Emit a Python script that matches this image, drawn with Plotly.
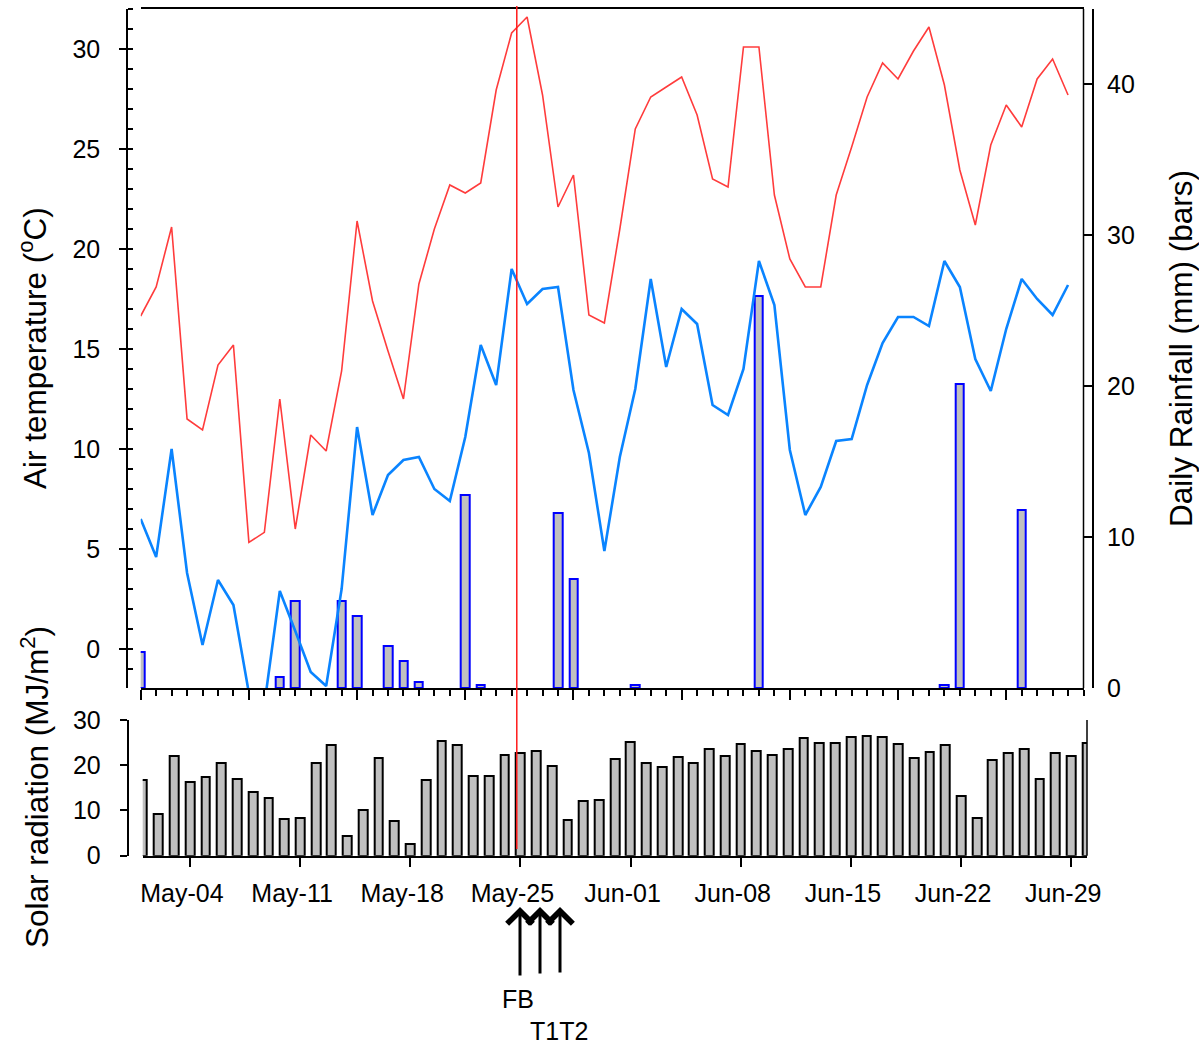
import pandas as pd
import plotly.graph_objects as go

# ---- daily weather record, 1 May – 30 June ----
dates = pd.date_range("2015-05-01", "2015-06-30", freq="D")

tmax = [16.65, 18.1, 21.1, 11.5, 10.95, 14.2, 15.2, 5.33, 5.83, 12.5,
        6.0, 10.7, 9.9, 13.9, 21.4, 17.4, 14.9, 12.5, 18.25, 21.0,
        23.2, 22.8, 23.3, 27.95, 30.8, 31.6, 27.7, 22.1, 23.7, 16.7,
        16.3, 21.0, 26.0, 27.6, 28.1, 28.6, 26.7, 23.5, 23.1, 30.1,
        30.1, 22.7, 19.5, 18.1, 18.1, 22.7, 25.1, 27.6, 29.3, 28.5,
        29.9, 31.1, 28.2, 23.95, 21.2, 25.2, 27.2, 26.1, 28.5, 29.5,
        27.7]

tmin = [6.5, 4.6, 10.0, 3.8, 0.2, 3.45, 2.2, -2.2, -2.8, 2.9,
        0.9, -1.15, -1.85, 3.0, 11.1, 6.7, 8.7, 9.45, 9.6, 8.0,
        7.4, 10.6, 15.2, 13.2, 19.0, 17.25, 18.0, 18.1, 12.95, 9.8,
        4.9, 9.6, 13.0, 18.5, 14.1, 17.0, 16.25, 12.2, 11.7, 14.0,
        19.4, 17.2, 9.95, 6.7, 8.1, 10.4, 10.5, 13.2, 15.3, 16.6,
        16.6, 16.15, 19.4, 18.1, 14.5, 12.9, 16.0, 18.5, 17.5, 16.7,
        18.2]

rain = [2.36, 0, 0, 0, 0, 0, 0, 0, 0, 0.75,
        5.76, 0, 0, 5.76, 4.77, 0, 2.78, 1.79, 0.37, 0,
        0, 12.78, 0.18, 0, 0, 0, 0, 11.57, 7.2, 0,
        0, 0, 0.2, 0, 0, 0, 0, 0, 0, 0,
        26.0, 0, 0, 0, 0, 0, 0, 0, 0, 0,
        0, 0, 0.2, 20.18, 0, 0, 0, 11.79, 0, 0,
        0]

solar = [16.8, 9.27, 22.15, 16.2, 17.3, 20.6, 17.0, 14.15, 12.8, 8.2,
         8.4, 20.4, 24.5, 4.45, 10.0, 21.5, 7.57, 2.6, 16.75, 25.3,
         24.45, 17.7, 17.55, 22.2, 22.75, 23.05, 19.85, 7.93, 12.2, 12.4,
         21.3, 25.1, 20.5, 19.7, 21.8, 20.4, 23.7, 22.15, 24.8, 23.2,
         22.3, 23.5, 26.0, 25.0, 25.0, 26.15, 26.4, 26.3, 24.8, 21.6,
         22.9, 24.4, 13.1, 8.3, 21.05, 22.8, 23.5, 16.9, 22.8, 22.15,
         25.0]

event_line_date = "2015-05-25 08:00"
event_labels = ["FB", "T1", "T2"]

# ---- page geometry (pixels) ----
W, H = 1199, 1045
DAY = 86400000


def fx(px):
    return px / W


def fy(py):
    return 1 - py / H


FONT = "Liberation Sans, Arial, sans-serif"
tickfont = dict(family=FONT, size=25, color="black")
titlefont = dict(family=FONT, size=31.5, color="black")

rain_dates = [d for d, r in zip(dates, rain) if r > 0]
rain_vals = [r for r in rain if r > 0]

fig = go.Figure()

# rainfall bars (base axis of the upper panel, so lines sit above them)
fig.add_trace(go.Bar(
    x=rain_dates, y=rain_vals, width=0.55 * DAY,
    marker=dict(color="#c0c0c0", line=dict(color="#0000ff", width=2)),
    xaxis="x", yaxis="y", showlegend=False,
))

# maximum / minimum air temperature
fig.add_trace(go.Scatter(
    x=dates, y=tmax, mode="lines",
    line=dict(color="#ff3c3c", width=1.6),
    xaxis="x", yaxis="y2", showlegend=False,
))
fig.add_trace(go.Scatter(
    x=dates, y=tmin, mode="lines",
    line=dict(color="#0a84ff", width=2.6),
    xaxis="x", yaxis="y2", showlegend=False,
))

# solar radiation
fig.add_trace(go.Bar(
    x=dates, y=solar, width=0.56 * DAY,
    marker=dict(color="#c0c0c0", line=dict(color="black", width=2)),
    xaxis="x2", yaxis="y4", showlegend=False,
))

axis_common = dict(showgrid=False, zeroline=False, linecolor="black",
                   linewidth=1.5, tickcolor="black", tickwidth=1.5,
                   tickfont=tickfont, automargin=False)

fig.update_layout(
    width=W, height=H,
    margin=dict(l=0, r=0, t=0, b=0),
    paper_bgcolor="white", plot_bgcolor="white",
    template="none",
    bargap=0,
    font=dict(family=FONT, color="black"),
    xaxis=dict(
        **axis_common,
        domain=[fx(140.7), fx(1083.5)], anchor="y", type="date",
        range=["2015-05-01", "2015-07-01"],
        showline=True, mirror=True,
        ticks="outside", ticklen=10, tick0="2015-05-01", dtick=7 * DAY,
        showticklabels=False,
        minor=dict(ticks="outside", ticklen=6, dtick=DAY, tick0="2015-05-01",
                   tickcolor="black", tickwidth=1.5, showgrid=False),
    ),
    yaxis=dict(
        **axis_common,
        domain=[fy(688), fy(9)], range=[0, 45],
        side="right", anchor="free", position=fx(1093.3),
        showline=True, ticks="inside", ticklen=10,
        tick0=0, dtick=10, ticklabelstandoff=8,
    ),
    yaxis2=dict(
        **axis_common,
        overlaying="y", side="left", anchor="free", position=fx(127),
        range=[-1.95, 32], showline=True,
        ticks="outside", ticklen=7, tick0=0, dtick=5, ticklabelstandoff=14,
        minor=dict(ticks="inside", ticklen=5, dtick=1, tick0=0,
                   tickcolor="black", tickwidth=1.5, showgrid=False),
    ),
    yaxis3=dict(
        **axis_common,
        overlaying="y", side="right", anchor="free", position=fx(1093.3),
        range=[-1.95, 32], showline=False, showticklabels=False,
        ticks="", tick0=0, dtick=5,
        minor=dict(ticks="inside", ticklen=5, dtick=1, tick0=0,
                   tickcolor="black", tickwidth=1.5, showgrid=False),
    ),
    xaxis2=dict(
        **axis_common,
        domain=[fx(142.7), fx(1087)], anchor="y4", type="date",
        range=["2015-05-01", "2015-06-30"],
        showline=True, ticks="outside", ticklen=10,
        tick0="2015-05-04", dtick=7 * DAY, tickformat="%b-%d",
        ticklabelshift=-8, ticklabelstandoff=5,
    ),
    yaxis4=dict(
        **axis_common,
        domain=[fy(855.7), fy(720)], range=[0, 30],
        anchor="free", position=fx(127.5), side="left",
        showline=True, ticks="outside", ticklen=7,
        tick0=0, dtick=10, ticklabelstandoff=14,
    ),
)

shapes = [
    # right frame edge of the temperature/rainfall panel
    dict(type="line", xref="x domain", yref="y domain", x0=1, x1=1, y0=0, y1=1,
         line=dict(color="black", width=1.5)),
    # right frame edge of the radiation panel
    dict(type="line", xref="x2 domain", yref="y4 domain", x0=1, x1=1, y0=0, y1=1,
         line=dict(color="black", width=1.5)),
    # event marker running through both panels
    dict(type="line", xref="x", yref="paper",
         x0=event_line_date, x1=event_line_date, y0=fy(849), y1=fy(6),
         line=dict(color="#ff1a1a", width=1.5), layer="above"),
]
fig.update_layout(shapes=shapes)

title_common = dict(textangle=-90, xref="paper", yref="paper",
                    xanchor="center", yanchor="middle",
                    showarrow=False, font=titlefont)
annotations = [
    dict(text="Air temperature (<sup>o</sup>C)", x=fx(33), y=fy(348), **title_common),
    dict(text="Daily Rainfall (mm) (bars)", x=fx(1181), y=fy(349), **title_common),
    dict(text="Solar radiation (MJ/m<sup>2</sup>)", x=fx(35), y=fy(787), **title_common),
]

# treatment arrows below the date axis
arrow_px = [520, 540, 560]
arrow_len = [70, 68, 67]
for ax_px, alen in zip(arrow_px, arrow_len):
    annotations.append(dict(
        text="", xref="paper", yref="paper", x=fx(ax_px), y=fy(907),
        ax=0, ay=alen, showarrow=True, arrowhead=4, arrowsize=1.65,
        arrowwidth=3, arrowcolor="black", standoff=0,
    ))

label_common = dict(xref="paper", yref="paper", showarrow=False,
                    font=tickfont, yanchor="middle", xanchor="center")
annotations += [
    dict(text=event_labels[0], x=fx(518), y=fy(999), **label_common),
    dict(text=event_labels[1] + event_labels[2], x=fx(559), y=fy(1031), **label_common),
]
fig.update_layout(annotations=annotations)

fig.write_html("out.html")
